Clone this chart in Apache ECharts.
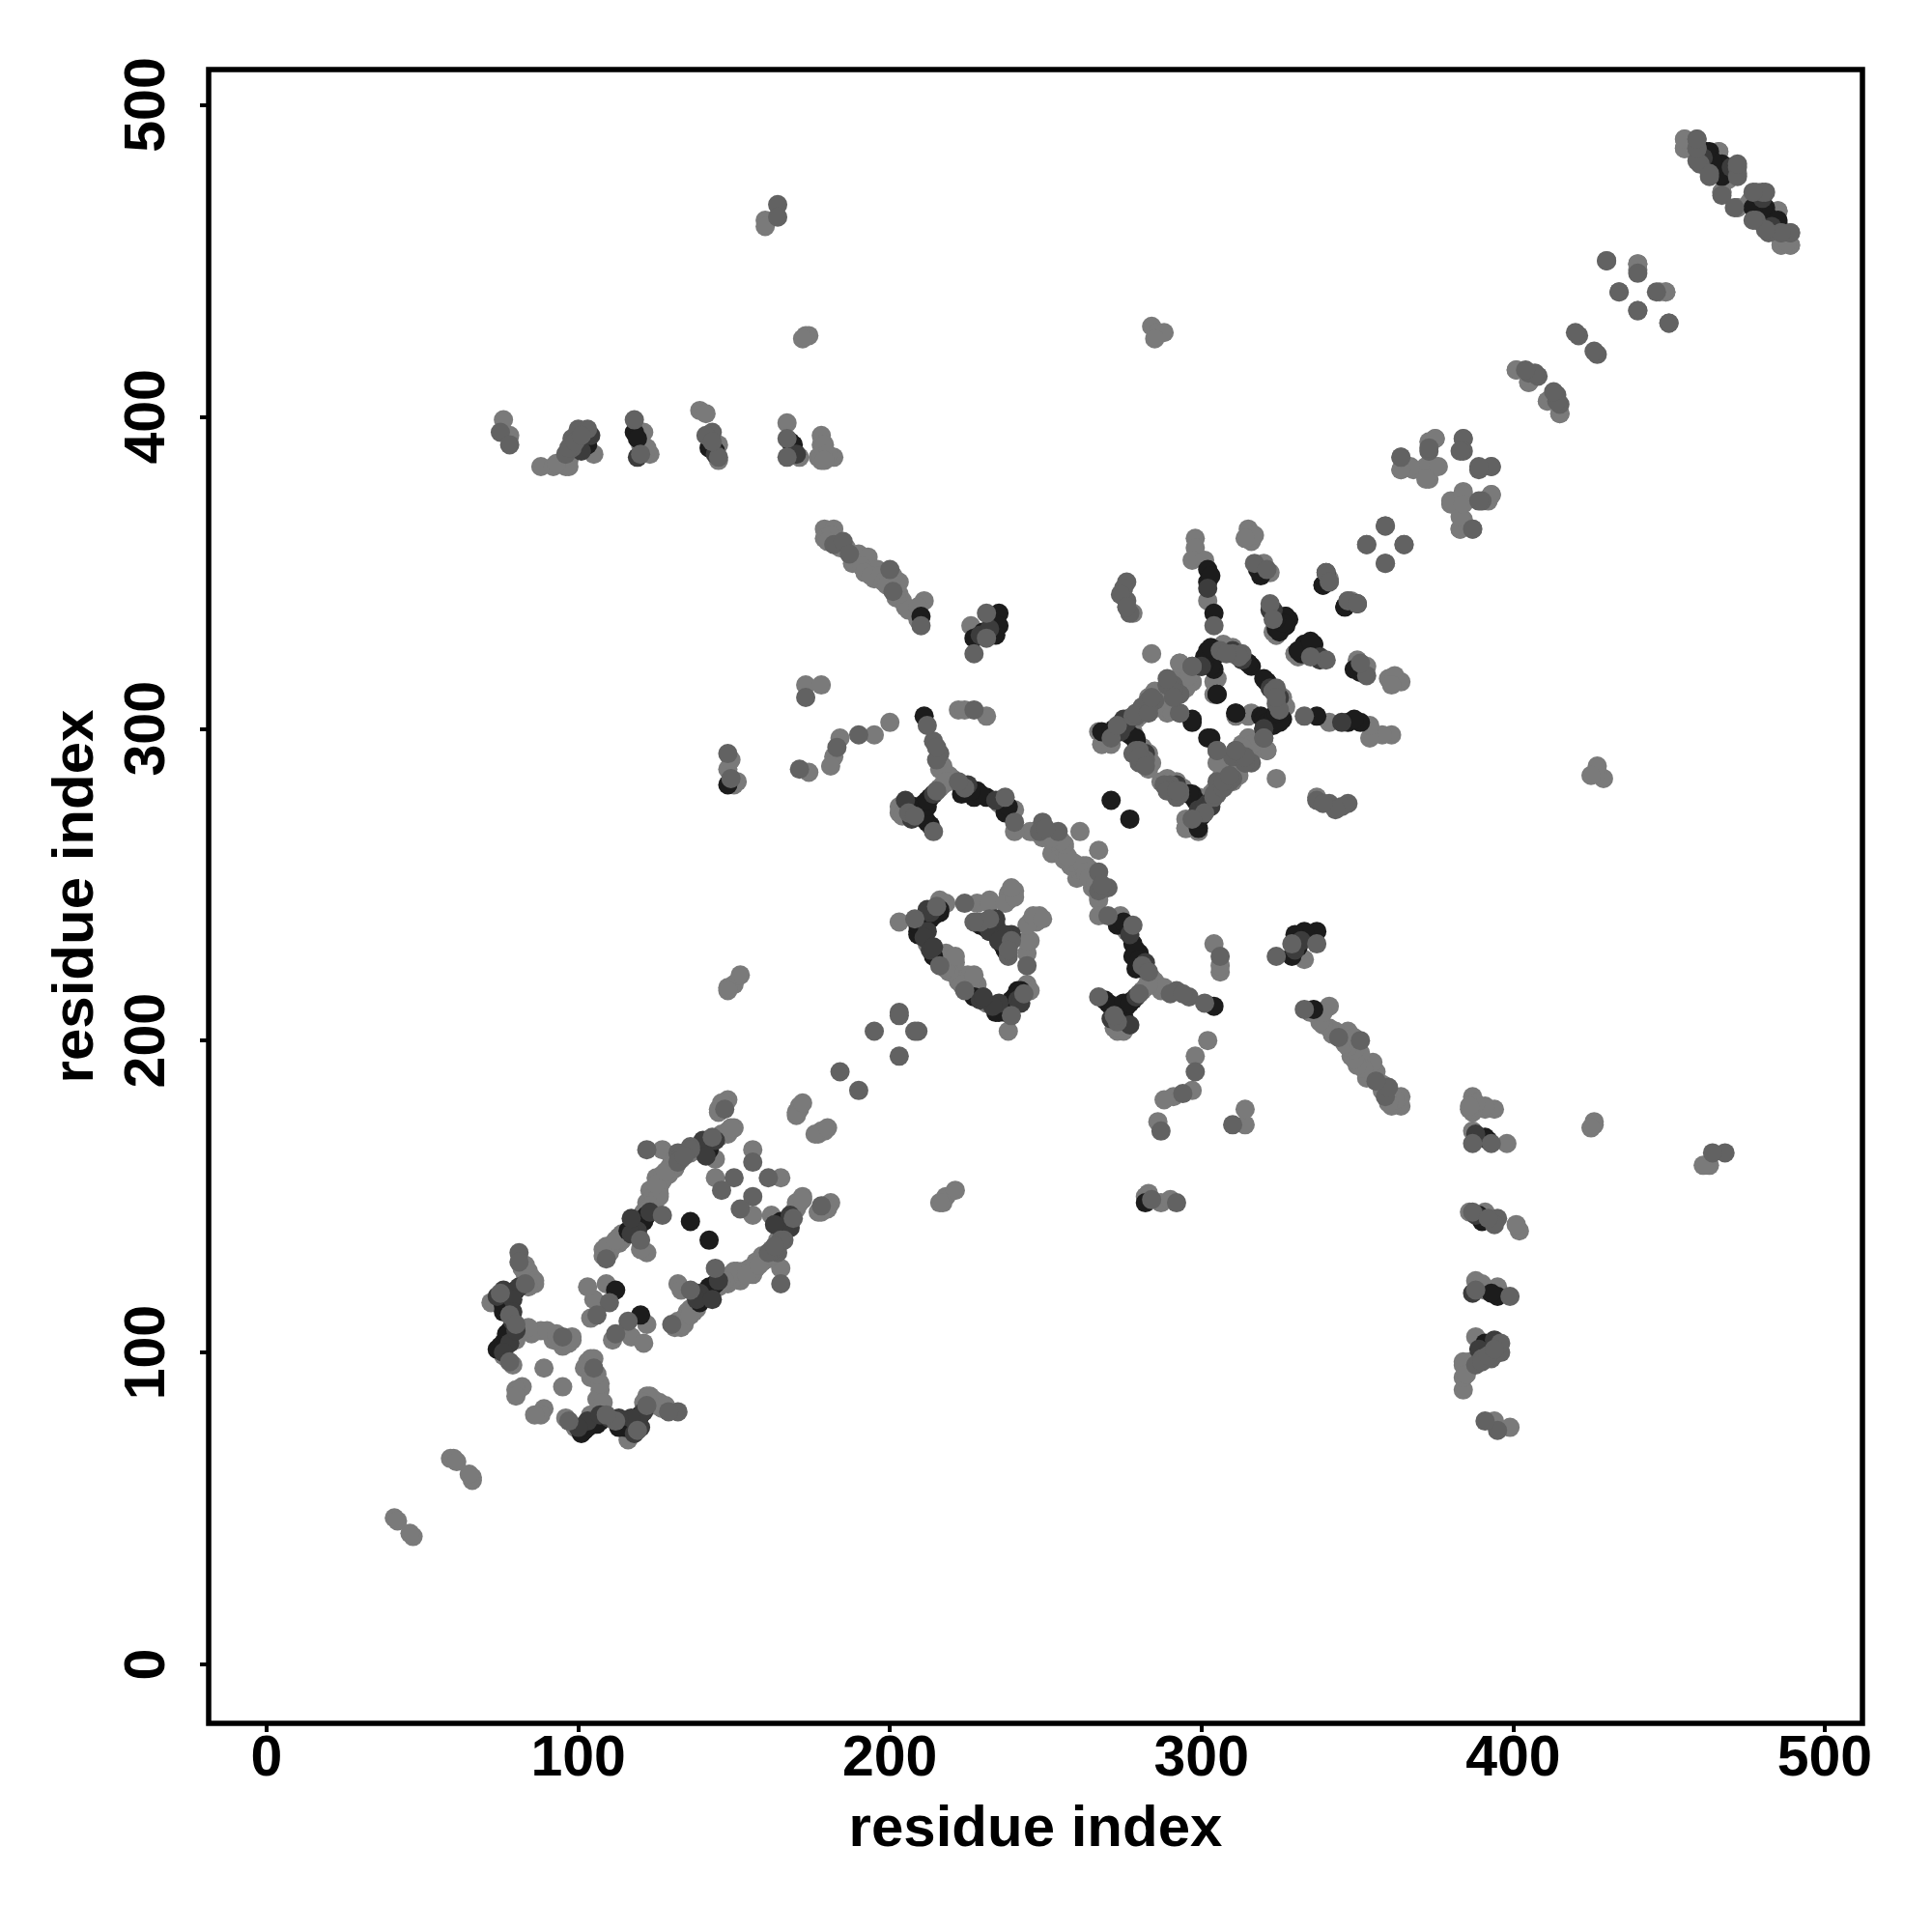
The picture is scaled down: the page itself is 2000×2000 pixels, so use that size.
<!DOCTYPE html>
<html><head><meta charset="utf-8">
<script src="https://cdn.jsdelivr.net/npm/echarts@6/dist/echarts.min.js"></script>
<style>html,body{margin:0;background:#fff}#c{width:2000px;height:2000px}</style></head>
<body><div id="c"></div>
<script>
const tickValues=[0,100,200,300,400,500];
const axisTitle='residue index';
const darkContacts=[[115,76],[117,77],[119,79],[120,80],[107,78],[105,77],[102,75],[101,74],[120,112],[140,118],[142,120],[143,121],[139,116],[165,142],[166,140],[167,141],[142,136],
[116,76],[118,78],[103,76],[104,77],[106,77],[141,119],[140,119],[141,118],[144,122],[142,121],[166,141],[167,142],[165,140],[113,76],
[241,216],[238,212],[236,210],[235,209],[227,214],[236,231],[237,211],[239,213],[240,214],[242,216],[234,209],[237,209],[235,232],[237,229],
[273,237],[278,231],[280,228],[278,227],[279,223],[304,211],[270,212],[273,210],[276,211],[278,213],[275,208],[275,238],[279,229],[280,226],[269,213],[271,211],[272,211],[274,209],[275,212],[277,212],
[271,277],[302,351],[302,347],[304,337],[319,349],[324,333],[327,336],[327,333],[339,346],[346,339],[350,340],[333,327],[336,327],[332,324],[297,302],[279,296],[296,279],[299,268],[299,271],[303,297],[302,322],[304,324],[315,321],[302,321],[305,311],[321,315],[325,305],[322,302],[319,304],[323,304],[311,305],
[272,300],[273,299],[298,277],[297,279],[300,320],[301,323],[303,323],[302,325],[305,324],[316,320],[323,302],[320,303],[321,301],[324,302],[326,303],[303,349],[318,351],[326,334],[325,331],[328,335],[334,326],[335,324],
[103,391],[118,395],[142,390],[169,391],[210,336],[102,392],[119,393],[144,389],[168,392],
[227,329],[230,331],[235,337],[235,333],[234,330],[282,148],
[463,485],[467,480],[467,477],[478,467],[481,467],[482,464],[485,462]];
const charcoalContacts=[[120,76],[121,81],[117,79],[118,74],[113,79],[110,79],[103,78],[100,76],[107,80],[145,123],[138,119],[139,119],[138,117],[143,117],[168,140],[168,144],[163,141],
[241,213],[242,212],[235,212],[233,211],[229,213],[230,214],[239,234],[234,237],[232,235],
[277,234],[282,225],[271,207],[279,214],[277,205],[274,300],[275,301],[276,303],[282,292],[281,291],[299,274],[300,273],[302,276],[303,275],[322,313],[325,310],[323,338],[302,345],[338,322],[144,388],[119,387],[101,389],[104,394],[170,388],[300,320],[229,330],[232,332],[461,483],[470,480]];
const midContacts=[[132,81],[129,81],[122,83],[119,75],[112,78],[109,80],[97,78],[105,95],
[116,110],[112,106],[136,120],[130,109],[144,127],[164,132],[165,122],[166,136],[169,143],[178,147],[161,156],[156,150],[152,146],[165,136],[163,133],[161,132],[163,134],[190,184],[203,195],[209,203],[208,203],
[243,215],[239,208],[224,216],[244,224],[239,232],[238,227],[229,238],
[267,254],[270,249],[267,248],[270,240],[278,237],[281,224],[283,222],[292,216],[296,214],[301,212],[267,214],[280,215],[273,206],[272,208],[306,227],[268,250],[290,215],[294,215],
[276,347],[276,341],[277,337],[304,333],[317,353],[322,340],[323,335],[340,350],[347,341],[297,320],[271,297],[279,304],[281,307],[289,314],[291,314],[293,311],[293,305],[278,292],[280,289],[290,282],[293,280],[301,273],[304,278],[306,281],[314,289],[311,293],[305,293],[320,297],[306,325],[312,323],[323,312],
[283,307],[285,309],[279,293],[280,292],[291,280],[288,282],[305,279],[307,283],[309,283],[305,283],[310,284],[312,291],[310,291],[316,289],[313,324],[310,324],[324,308],[275,345],[274,343],[276,339],[321,351],
[359,365],[353,359],[365,359],[359,353],
[75,395],[78,391],[96,388],[98,390],[98,393],[100,396],[103,396],[118,399],[120,388],[143,395],[141,394],[145,387],[167,393],[167,387],[97,390],[99,392],[101,394],[143,392],
[182,359],[185,360],[187,356],[200,351],[201,344],[210,333],
[227,324],[231,337],[231,329],[173,310],[190,298],[183,294],[171,287],[284,149],[292,148],
[364,387],[373,389],[384,393],[384,389],[389,383],[390,373],
[405,414],[408,413],[414,407],[415,404],[421,426],[427,420],[430,450],[440,446],[434,440],[440,434],[450,430],
[164,468],[164,464],
[459,489],[459,486],[460,481],[472,480],[472,477],[463,477],[467,471],[478,463],[482,459],[486,459],[489,459],[481,472]];
const lightContacts=[[41,47],[60,66],[59,66],[42,46],[61,65],
[126,84],[123,86],[125,83],[116,72],[99,76],[96,79],[89,82],[88,80],[86,80],[107,88],[106,85],[104,98],[102,95],[104,92],[95,89],
[127,82],[124,85],[122,86],[128,83],[121,84],[104,80],[108,84],[107,90],[106,93],[103,97],[105,98],
[122,109],[117,105],[121,103],[111,104],
[132,122],[133,108],[134,111],[138,114],[135,113],[133,120],[147,124],[153,126],[155,127],[159,131],[165,127],[164,136],[171,148],[172,150],[170,146],[162,144],[177,145],[181,148],[165,156],[156,144],[178,171],[177,170],[179,171],[156,125],[152,123],[159,129],[160,130],
[148,122],[150,124],[151,126],[157,127],[157,129],[161,130],[162,133],[169,145],[170,148],[172,149],[136,114],[137,113],[131,108],[132,110],[134,109],[136,112],[178,145],[179,147],[180,146],[176,170],[180,172],[149,125],[150,126],[154,125],[158,128],[147,123],[146,122],[145,121],[162,131],[164,134],
[238,203],[244,218],[231,212],[228,218],[224,220],[225,221],[248,240],[245,238],[245,232],[244,228],[247,238],[244,232],[244,237],[243,216],[245,216],[246,240],[249,239],[226,217],[222,219],[223,218],[227,221],
[267,261],[261,255],[265,251],[260,252],[265,249],[267,246],[260,255],[262,255],[264,253],[266,250],[267,245],[267,240],[274,240],[276,235],[285,219],[287,216],[282,217],[273,203],[275,203],[306,222],[306,224],[304,231],
[256,262],[254,263],[252,264],[250,266],[258,256],[259,257],[263,256],[264,255],[265,252],[284,220],[283,219],[288,217],[281,216],[283,218],[274,205],[272,204],
[278,337],[298,361],[298,358],[297,354],[301,354],[302,341],[315,364],[316,360],[320,353],[322,350],[324,330],[341,347],[330,324],[293,321],[284,324],[267,299],[268,295],[277,302],[283,310],[285,312],[294,315],[297,315],[289,310],[289,305],[280,293],[283,290],[293,281],[295,268],[295,271],[299,278],[306,284],[309,287],[312,288],[315,293],[315,297],[306,290],[321,293],[309,325],[305,316],[315,304],[311,304],
[278,303],[280,304],[286,310],[287,312],[290,315],[292,316],[295,316],[294,313],[281,290],[282,288],[283,292],[294,281],[290,283],[289,284],[287,283],[303,279],[307,285],[311,286],[313,290],[316,292],[313,295],[317,296],[307,327],[310,326],[326,307],[317,362],[314,361],[331,323],[341,348],
[76,399],[78,394],[88,384],[92,384],[96,384],[105,388],[97,386],[121,395],[120,391],[123,388],[139,402],[141,401],[145,391],[167,398],[171,387],[178,394],[178,391],[179,391],[177,387],[182,387],[97,384],[93,385],[122,390],[145,386],[180,388],[178,386],[179,386],
[179,364],[182,364],[179,361],[190,356],[193,355],[196,351],[195,348],[203,347],[203,343],[204,341],[211,341],
[181,362],[180,360],[184,358],[186,358],[188,353],[191,352],[192,350],[194,349],[197,349],[198,347],[199,346],[201,349],[202,342],[205,339],[206,338],[209,339],[209,335],
[226,333],[173,314],[178,314],[200,302],[195,298],[184,297],[182,291],[181,288],[174,286],
[283,151],[287,148],[290,149],[282,150],
[160,463],[160,461],[173,426],[174,426],[172,425],[284,429],[286,427],[288,427],[285,425],[218,150],[221,152],[217,148],[216,148],
[364,383],[368,383],[373,380],[375,384],[373,392],[375,393],[372,384],[393,384],[384,376],[380,372],[393,375],[384,367],[383,364],[387,364],
[401,415],[405,411],[411,405],[415,401],[440,449],[447,440],[449,440],
[455,489],[455,486],[466,485],[463,481],[469,476],[467,472],[472,467],[478,472],[485,466],[486,455],[489,455],[456,488]];

const symmetric=list=>list.concat(list.map(([a,b])=>[b,a]));
const FONT='"Liberation Sans"';
function axis(rot,gap,lmargin,lo,hi){return {
  type:'value',name:axisTitle,nameLocation:'middle',nameGap:gap,
  nameTextStyle:{fontFamily:FONT,fontWeight:'bold',fontSize:60,color:'#000'},
  min:lo,max:hi,
  splitLine:{show:false},
  axisLine:{show:false,onZero:false},
  axisTick:{show:true,length:9,inside:false,customValues:tickValues,lineStyle:{color:'#000',width:4}},
  axisLabel:{show:true,rotate:rot,margin:lmargin,fontFamily:FONT,fontWeight:'bold',fontSize:59,color:'#000',
    customValues:tickValues,hideOverlap:false,showMinLabel:true,showMaxLabel:true}
};}
const series=[[lightContacts,'#7a7a7a'],[darkContacts,'#1c1c1c'],[charcoalContacts,'#3c3c3c'],[midContacts,'#626262']].map(([d,c])=>({
  type:'scatter',data:symmetric(d),symbol:'circle',symbolSize:20,silent:true,
  itemStyle:{color:c,opacity:1,borderWidth:0},animation:false
}));
const chart=echarts.init(document.getElementById('c'),null,{renderer:'canvas'});
chart.setOption({
  animation:false,backgroundColor:'#fff',
  grid:{left:216,top:72,width:1712,height:1712,show:true,borderColor:'#000',borderWidth:5.5,backgroundColor:'transparent',containLabel:false},
  xAxis:axis(0,80,8,-18.6,512.1),
  yAxis:axis(90,107,33,-18.9,511.3),
  series
});
</script></body></html>
